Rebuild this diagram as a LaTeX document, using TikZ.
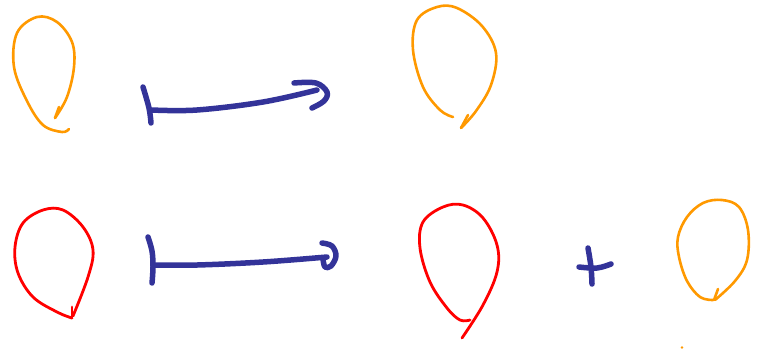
\documentclass[tikz,border=0pt]{standalone}
\definecolor{pen orange}{RGB}{255,153,0}
\definecolor{pen red}{RGB}{255,0,0}
\definecolor{pen blue}{RGB}{51,51,153}
\tikzset{
  orangeink/.style={draw=pen orange,line width=2.6pt,line cap=round,line join=round},
  redink/.style={draw=pen red,line width=2.8pt,line cap=round,line join=round},
  blueink/.style={draw=pen blue,line width=5.5pt,line cap=round,line join=round},
}
\begin{document}
\begin{tikzpicture}[x=1pt,y=-1pt]
\useasboundingbox (0,0) rectangle (759,349);
% top-left orange loop
\draw[orangeink] plot[smooth,tension=0.6] coordinates {(69,129) (62,132) (43,125) (27,101) (14,67) (17,33) (37,17) (57,22) (72,42) (74,67) (67,97) (55,118)};
\draw[orangeink] (55,118) -- (59,107);
% top arrow
\draw[blueink] plot[smooth,tension=0.6] coordinates {(143,87) (149,108) (151,123)};
\draw[blueink] plot[smooth,tension=0.6] coordinates {(152,110) (197,110) (263,102) (317,90)};
\draw[blueink] plot[smooth,tension=0.6] coordinates {(294,83) (316,83) (327,92) (324,101) (312,108)};
% top-middle orange loop
\draw[orangeink] plot[smooth,tension=0.6] coordinates {(453,117) (440,110) (423,87) (413,50) (417,20) (437,7) (457,8) (482,26) (496,53) (491,85) (476,111) (461,128)};
\draw[orangeink] (461,128) -- (468,115);
% bottom-left red loop
\draw[redink] plot[smooth,tension=0.6] coordinates {(72,318) (57,312) (33,297) (18,273) (15,247) (23,223) (43,210) (63,210) (83,227) (93,250) (88,277) (73,316)};
\draw[redink] (72,307) -- (72,318);
% bottom arrow
\draw[blueink] plot[smooth,tension=0.6] coordinates {(148,237) (152,251) (153,267) (152,283)};
\draw[blueink] plot[smooth,tension=0.6] coordinates {(153,265) (197,265) (263,262) (327,257)};
\draw[blueink] plot[smooth,tension=0.6] coordinates {(322,243) (332,246) (336,256) (331,266) (325,267) (323,259)};
% bottom-middle red loop
\draw[redink] plot[smooth,tension=0.6] coordinates {(470,320) (460,320) (447,308) (430,282) (420,248) (423,222) (443,207) (463,205) (483,218) (497,245) (497,272) (483,305) (462,338)};
% plus sign
\draw[blueink] plot[smooth,tension=0.6] coordinates {(588,248) (591,267) (592,284)};
\draw[blueink] plot[smooth,tension=0.6] coordinates {(579,267) (597,268) (611,264)};
% bottom-right orange loop
\draw[orangeink] plot[smooth,tension=0.6] coordinates {(713,300) (700,297) (687,281) (679,257) (678,237) (687,217) (703,203) (722,200) (739,207) (748,230) (747,260) (735,281) (715,300)};
\draw[orangeink] (714,300) -- (718,289);
\fill[pen orange] (682,347.5) circle (1.3);
\end{tikzpicture}
\end{document}
